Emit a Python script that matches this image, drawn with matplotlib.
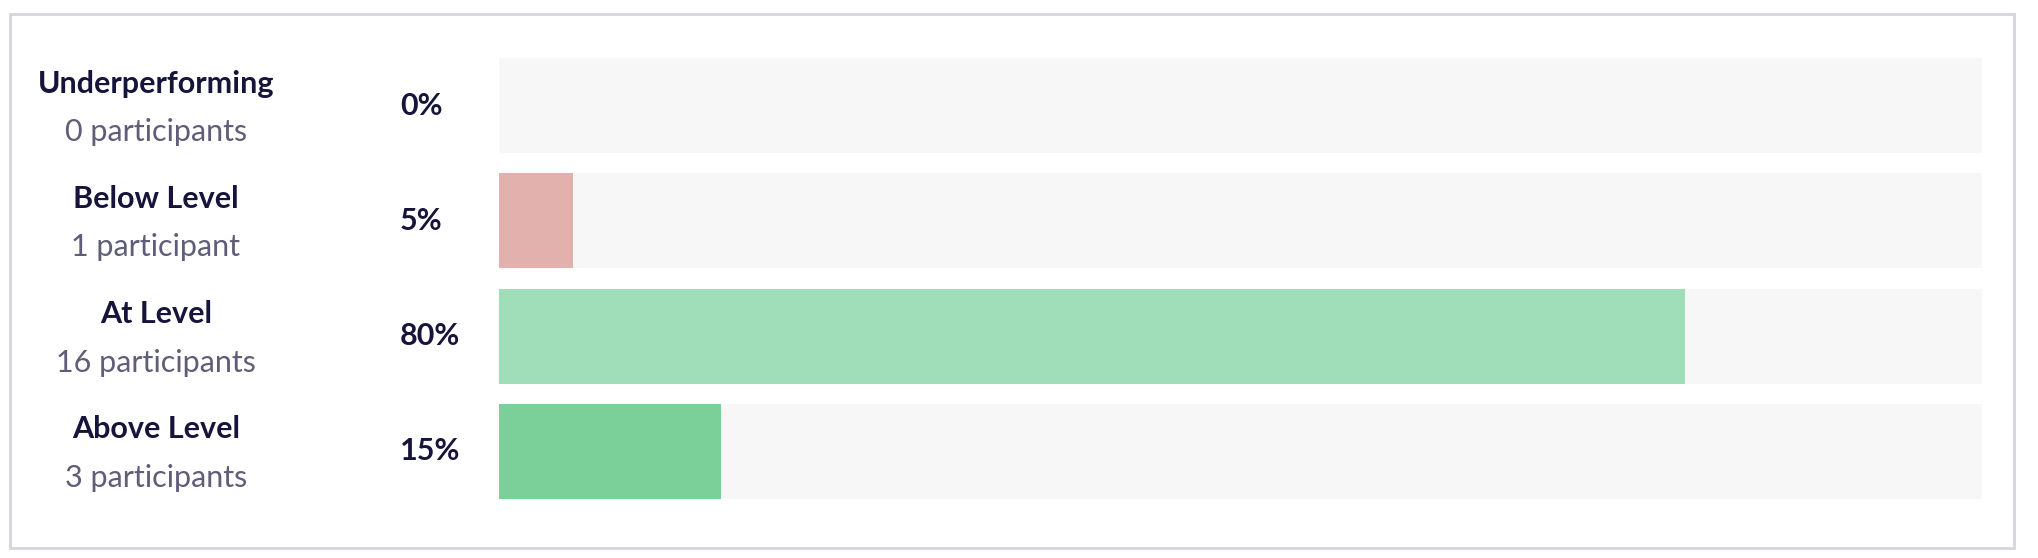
import matplotlib.pyplot as plt
from matplotlib.patches import Rectangle

# chart data
levels = ["Underperforming", "Below Level", "At Level", "Above Level"]
counts = ["0 participants", "1 participant", "16 participants", "3 participants"]
percents = [0, 5, 80, 15]
colors = ["#e2b0ad", "#e2b0ad", "#9fdeb9", "#7bcf99"]

W, H = 2038, 558
fig = plt.figure(figsize=(W / 100, H / 100), dpi=100)
plt.rcParams["font.family"] = ["Lato", "DejaVu Sans"]

# outer card border
fig.patches.append(Rectangle((10 / W, 1 - 548 / H), 2004 / W, 534 / H,
                             transform=fig.transFigure, fill=False,
                             edgecolor="#d5d5de", linewidth=2))

ax = fig.add_axes([499 / W, 1 - 509 / H, 1483 / W, 461 / H])
rows = list(range(len(levels)))
bar_h = 0.824

ax.barh(rows, [100] * len(rows), height=bar_h, color="#f7f7f7", linewidth=0)
ax.barh(rows, percents, height=bar_h, color=colors, linewidth=0)

ax.set_xlim(0, 100)
ax.set_ylim(3.5, -0.5)
ax.axis("off")

tr = ax.get_yaxis_transform()
for i, (lvl, cnt, p) in enumerate(zip(levels, counts, percents)):
    ax.text(-0.2313, i - 0.19, lvl, transform=tr, ha="center", va="center",
            fontsize=22, fontweight="bold", color="#16143a")
    ax.text(-0.2313, i + 0.23, cnt, transform=tr, ha="center", va="center",
            fontsize=22, color="#5f5d78")
    ax.text(-0.0668, i, f"{p}%", transform=tr, ha="left", va="center",
            fontsize=22, fontweight="bold", color="#16143a")

plt.savefig("out.png", dpi=100)
